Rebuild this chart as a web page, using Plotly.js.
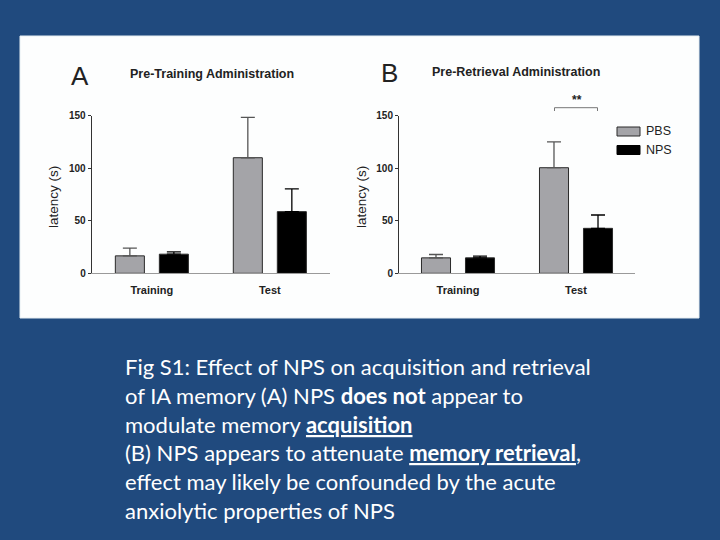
<!DOCTYPE html>
<html>
<head>
<meta charset="utf-8">
<script src="https://cdn.plot.ly/plotly-3.0.1.min.js"></script>
<style>html,body{margin:0;padding:0;background:#204a7e;}#chart{width:720px;height:540px;}</style>
</head>
<body>
<div id="chart"></div>
<script>
// ---- data ----
const categories = ["Training", "Test"];
const seriesNames = ["PBS", "NPS"];
const panelATitle = "Pre-Training Administration";
const panelBTitle = "Pre-Retrieval Administration";
const yTickVals = [0, 50, 100, 150];
const yTickText = ["0", "50", "100", "150"];
// Panel A (pre-training)
const aPBS = [16.6, 110.0];
const aPBSerr = [7.4, 38.4];
const aNPS = [18.2, 58.7];
const aNPSerr = [2.2, 21.7];
// Panel B (pre-retrieval)
const bPBS = [14.7, 100.5];
const bPBSerr = [3.2, 24.6];
const bNPS = [14.7, 42.8];
const bNPSerr = [1.6, 12.7];
const noErr = [0, 0];
const captionLines = [
  "Fig S1: Effect of NPS on acquisition and retrieval",
  "of IA memory (A) NPS <b>does not</b> appear to",
  "modulate memory <b><u>acquisition</u></b>",
  "(B) NPS appears to attenuate <b><u>memory retrieval</u></b>,",
  "effect may likely be confounded by the acute",
  "anxiolytic properties of NPS"
];

const W = 720, H = 540;
const px = v => v / W;
const py = v => 1 - v / H;

const gray = "#a4a4a8";
const black = "#000000";

function barTrace(name, y, err, color, errColor, xa, ya) {
  return {
    type: "bar", name: name, x: categories, y: y,
    xaxis: xa, yaxis: ya, showlegend: false,
    marker: {color: color, line: {color: "#2a2a2a", width: 1}},
    error_y: {type: "data", symmetric: false, array: err, arrayminus: noErr,
              color: errColor, thickness: 1.3, width: 7},
    cliponaxis: false
  };
}

const traces = [
  barTrace(seriesNames[0], aPBS, aPBSerr, gray, "#555555", "x", "y"),
  barTrace(seriesNames[1], aNPS, aNPSerr, black, "#000000", "x", "y"),
  barTrace(seriesNames[0], bPBS, bPBSerr, gray, "#555555", "x2", "y2"),
  barTrace(seriesNames[1], bNPS, bNPSerr, black, "#000000", "x2", "y2")
];

const tickFont = {family: "Liberation Sans, Arial, sans-serif", size: 10, color: "#222", weight: "bold"};
const catFont = {family: "Liberation Sans, Arial, sans-serif", size: 11, color: "#222", weight: "bold"};

function xAxis(domain, range, anchor) {
  return {domain: domain, range: range, anchor: anchor, type: "category",
    showline: true, linecolor: "#9a9a9a", linewidth: 1, ticks: "", showgrid: false,
    zeroline: false, tickfont: catFont, ticklabelstandoff: 6, fixedrange: true};
}
function yAxis(domain, anchor) {
  return {domain: domain, range: [0, 150], anchor: anchor,
    showline: true, linecolor: "#333", linewidth: 1, ticks: "outside", ticklen: 3,
    tickcolor: "#333", tickvals: yTickVals, ticktext: yTickText, showgrid: false,
    zeroline: false, tickfont: tickFont, fixedrange: true};
}

const yDom = [py(273.3), py(115.7)];

const titleFont = {family: "Liberation Sans, Arial, sans-serif", size: 12.5, color: "#222", weight: "bold"};
const letterFont = {family: "Liberation Sans, Arial, sans-serif", size: 26, color: "#222"};
const axTitleFont = {family: "Liberation Sans, Arial, sans-serif", size: 13.5, color: "#222"};
const legFont = {family: "Liberation Sans, Arial, sans-serif", size: 12.5, color: "#222"};
const capFont = {family: "Lato, Carlito, sans-serif", size: 22, color: "#ffffff"};

const annotations = [
  {text: "A", x: px(79.5), y: py(75.5), xref: "paper", yref: "paper", showarrow: false, font: letterFont, xanchor: "center", yanchor: "middle"},
  {text: "B", x: px(389.5), y: py(73.5), xref: "paper", yref: "paper", showarrow: false, font: letterFont, xanchor: "center", yanchor: "middle"},
  {text: panelATitle, x: px(211.5), y: py(74), xref: "paper", yref: "paper", showarrow: false, font: titleFont, xanchor: "center", yanchor: "middle"},
  {text: panelBTitle, x: px(515.5), y: py(72), xref: "paper", yref: "paper", showarrow: false, font: titleFont, xanchor: "center", yanchor: "middle"},
  {text: "latency (s)", x: px(53), y: py(197), xref: "paper", yref: "paper", showarrow: false, font: axTitleFont, textangle: -90, xanchor: "center", yanchor: "middle"},
  {text: "latency (s)", x: px(361), y: py(197), xref: "paper", yref: "paper", showarrow: false, font: axTitleFont, textangle: -90, xanchor: "center", yanchor: "middle"},
  {text: "**", x: px(576.5), y: py(100), xref: "paper", yref: "paper", showarrow: false, font: {family: "Liberation Sans, Arial, sans-serif", size: 12, color: "#222", weight: "bold"}, xanchor: "center", yanchor: "middle"},
  {text: seriesNames[0], x: px(644), y: py(131.5), xref: "paper", yref: "paper", showarrow: false, font: legFont, xanchor: "left", yanchor: "middle"},
  {text: seriesNames[1], x: px(644), y: py(149.5), xref: "paper", yref: "paper", showarrow: false, font: legFont, xanchor: "left", yanchor: "middle"}
];
const lineY = [366.5, 395.2, 424, 452.7, 481.4, 510];
captionLines.forEach((t, i) => {
  annotations.push({text: t, x: px(123), y: py(lineY[i]), xref: "paper", yref: "paper",
    showarrow: false, font: capFont, xanchor: "left", yanchor: "middle", align: "left"});
});

const shapes = [
  {type: "rect", xref: "paper", yref: "paper", x0: px(20), x1: px(699), y0: py(318), y1: py(36),
   fillcolor: "#fdfefe", line: {color: "#e6eef2", width: 1}, layer: "below"},
  // significance bracket
  {type: "path", xref: "paper", yref: "paper",
   path: `M ${px(554.5)} ${py(111)} L ${px(554.5)} ${py(107.7)} L ${px(597.5)} ${py(107.7)} L ${px(597.5)} ${py(111)}`,
   line: {color: "#777", width: 1}},
  // legend swatches
  {type: "rect", xref: "paper", yref: "paper", x0: px(617), x1: px(640), y0: py(136), y1: py(127),
   fillcolor: gray, line: {color: "#2a2a2a", width: 1}},
  {type: "rect", xref: "paper", yref: "paper", x0: px(617), x1: px(640), y0: py(154.5), y1: py(145.5),
   fillcolor: black, line: {color: "#000", width: 1}}
];

const layout = {
  width: W, height: H,
  margin: {l: 0, r: 0, t: 0, b: 0},
  paper_bgcolor: "#204a7e", plot_bgcolor: "rgba(0,0,0,0)",
  barmode: "group", bargap: 0.254, bargroupgap: 0.34,
  showlegend: false,
  xaxis: xAxis([px(91.7), px(330)], [-0.51, 1.51], "y"),
  yaxis: yAxis(yDom, "x"),
  xaxis2: xAxis([px(399), px(635)], [-0.5, 1.5], "y2"),
  yaxis2: yAxis(yDom, "x2"),
  annotations: annotations,
  shapes: shapes
};

Plotly.newPlot("chart", traces, layout, {staticPlot: true, displayModeBar: false});
</script>
</body>
</html>
